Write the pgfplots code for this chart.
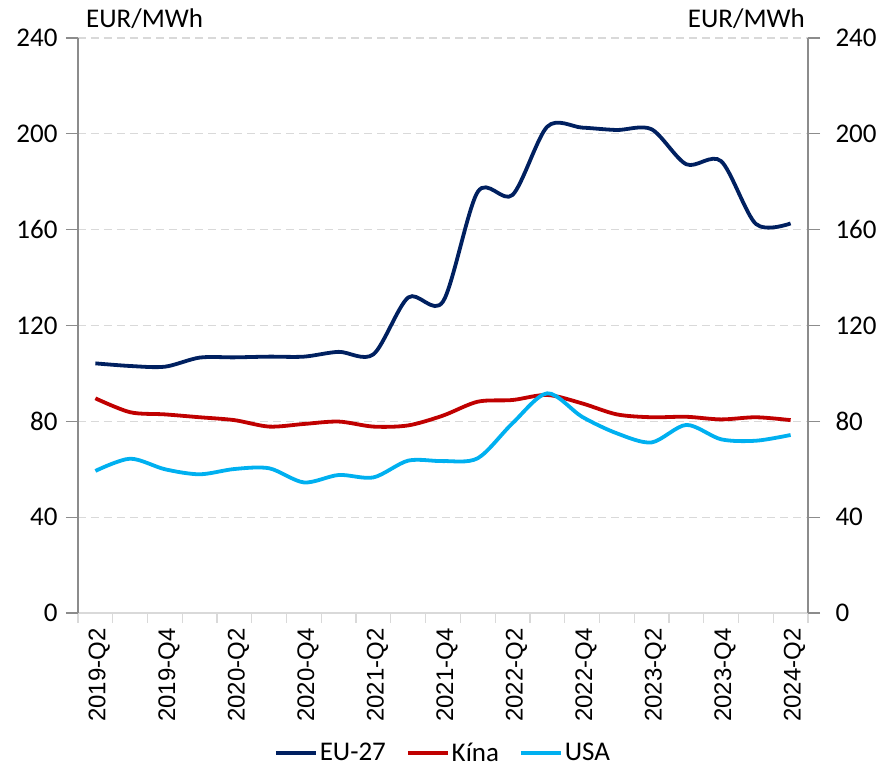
\documentclass[border=0pt]{standalone}
\usepackage{fontspec}
\setmainfont{Carlito}
\newfontfamily\arialfont{Liberation Sans}
\usepackage{pgfplots}
\usepackage{pgfplotstable}
\pgfplotsset{compat=1.18}
\usetikzlibrary{calc}
\definecolor{eublue}{HTML}{002060}
\definecolor{kinared}{HTML}{C00000}
\definecolor{usablue}{HTML}{00B0F0}
\definecolor{gridgray}{HTML}{D9D9D9}
\definecolor{axisgray}{HTML}{8C8C8C}

% quarterly prices, EUR/MWh (index 0 = 2019-Q2)
\pgfplotstableread{
q eu kina usa
0 104.2 89.6 59.3
1 103.1 83.8 64.4
2 102.8 82.9 60.0
3 106.6 81.7 57.9
4 106.7 80.5 60.1
5 107.0 77.8 60.4
6 107.0 78.9 54.5
7 109.0 79.9 57.6
8 108.0 77.8 56.6
9 131.7 78.3 63.6
10 130.0 82.4 63.4
11 175.8 88.2 64.6
12 174.5 88.9 79.2
13 203.0 91.0 91.7
14 202.6 87.5 81.9
15 201.6 82.9 75.0
16 201.9 81.7 71.2
17 187.3 81.9 78.5
18 188.6 80.8 72.5
19 162.4 81.7 71.9
20 162.6 80.5 74.3
}\prices

\begin{document}
\begin{tikzpicture}
\pgfplotsset{
    base/.style={
        width=730pt, height=575pt, scale only axis,
        xmin=-0.5, xmax=20.5, ymin=0, ymax=240,
        ytick={0,40,...,240},
        tick align=outside,
        major tick length=12pt,
        minor tick length=10pt,
        /pgf/number format/assume math mode=true,
        every tick label/.append style={font=\fontsize{27}{32}\selectfont},
    }
}
\begin{axis}[base,
    axis x line*=bottom, axis y line*=left,
    x axis line style={gridgray, line width=1.2pt},
    y axis line style={axisgray, line width=1.2pt},
    ytick style={axisgray, line width=1.2pt},
    xtick={0,2,...,20},
    xticklabels={2019-Q2,2019-Q4,2020-Q2,2020-Q4,2021-Q2,2021-Q4,2022-Q2,2022-Q4,2023-Q2,2023-Q4,2024-Q2},
    every major x tick/.style={draw=none},
    minor xtick={-0.5,0.5,...,20.5},
    every minor x tick/.style={gridgray, line width=1.2pt},
    xticklabel style={rotate=90, anchor=east, yshift=-4pt, font=\arialfont\fontsize{24}{28}\selectfont},
    yticklabel style={xshift=-5pt},
    ymajorgrids,
    grid style={gridgray, line width=1.2pt, dash pattern=on 8pt off 5pt},
    legend columns=3,
    legend style={draw=none, fill=none, at={(0.5,-0.243)}, anchor=center,
        font=\fontsize{27}{32}\selectfont,
        /tikz/every even column/.append style={column sep=18pt}},
    legend image code/.code={\draw[#1] (0pt,0pt) -- (40pt,0pt);},
]
\addplot[eublue, line width=3.8pt, smooth] table[x=q, y=eu] {\prices};
\addlegendentry{EU-27}
\addplot[kinared, line width=3.8pt, smooth] table[x=q, y=kina] {\prices};
\addlegendentry{Kína}
\addplot[usablue, line width=3.8pt, smooth] table[x=q, y=usa] {\prices};
\addlegendentry{USA}
\coordinate (bl) at (rel axis cs:0,0);
\coordinate (tr) at (rel axis cs:1,1);
\coordinate (tl) at (rel axis cs:0,1);
\end{axis}
\begin{axis}[base,
    axis x line=none, axis y line*=right,
    y axis line style={axisgray, line width=1.2pt},
    ytick style={axisgray, line width=1.2pt},
    yticklabel style={xshift=12pt},
]
\end{axis}
\node[anchor=base west, font=\fontsize{27}{32}\selectfont, inner sep=0pt] at ($(tl)+(8pt,10pt)$) {EUR/MWh};
\node[anchor=base east, font=\fontsize{27}{32}\selectfont, inner sep=0pt] at ($(tr)+(-3pt,10pt)$) {EUR/MWh};
\pgfresetboundingbox
\path ($(bl)+(-78pt,-155pt)$) rectangle ($(tr)+(73pt,38pt)$);
\end{tikzpicture}
\end{document}
